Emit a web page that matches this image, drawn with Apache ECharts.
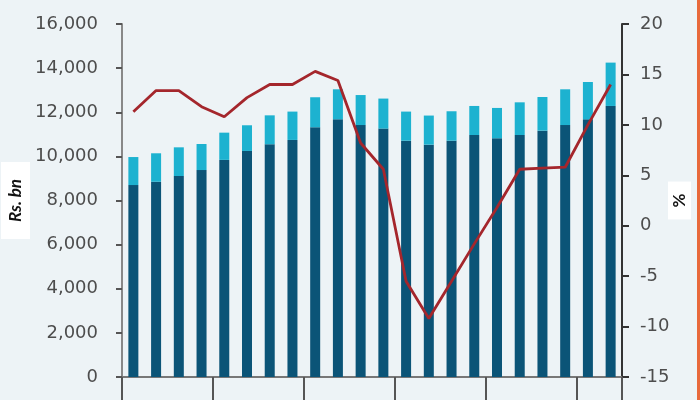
<!DOCTYPE html>
<html>
<head>
<meta charset="utf-8">
<script src="https://cdn.jsdelivr.net/npm/echarts@6/dist/echarts.min.js"></script>
<style>
  html, body { margin: 0; padding: 0; background: #edf3f6; }
  #chart { width: 700px; height: 400px; }
</style>
</head>
<body>
<div id="chart"></div>
<script>
// quarterly periods (labels fall below the visible area in the source)
const categories = [
  'Q1-1', 'Q2-1', 'Q3-1', 'Q4-1',
  'Q1-2', 'Q2-2', 'Q3-2', 'Q4-2',
  'Q1-3', 'Q2-3', 'Q3-3', 'Q4-3',
  'Q1-4', 'Q2-4', 'Q3-4', 'Q4-4',
  'Q1-5', 'Q2-5', 'Q3-5', 'Q4-5',
  'Q1-6', 'Q2-6'
]
// Rs. bn, lower (dark) part of each bar
const baseValues = [
  8700, 8850, 9110, 9380, 9840, 10245, 10550, 10745, 11320, 11680, 11420,
  11260, 10710, 10530, 10710, 10970, 10820, 10970, 11165, 11420, 11680, 12285
]
// Rs. bn, bar totals
const totalValues = [
  9970, 10140, 10410, 10560, 11075, 11410, 11860, 12030, 12680, 13040, 12780,
  12620, 12030, 11850, 12045, 12285, 12195, 12450, 12690, 13040, 13370, 14250
]
// % growth, right axis
const growth = [
  11.3, 13.4, 13.4, 11.8, 10.8, 12.7, 14.0, 14.0, 15.3, 14.4, 8.2,
  5.6, -5.5, -9.2, -5.5, -1.8, 1.8, 5.6, 5.7, 5.8, 10.0, 14.0
]
const topValues = totalValues.map((t, i) => t - baseValues[i])

const chart = echarts.init(document.getElementById('chart'))
const labelFont = { color: '#4d4d4d', fontSize: 18, fontFamily: 'DejaVu Sans' }

chart.setOption({
  backgroundColor: '#edf3f6',
  animation: false,
  grid: { left: 122, right: 78, top: 24, bottom: 23, outerBoundsMode: 'none', containLabel: false },
  xAxis: {
    type: 'category',
    data: categories,
    axisLine: { lineStyle: { color: '#777', width: 2 } },
    axisTick: { show: true, interval: 3, length: 30, lineStyle: { color: '#555', width: 2 } },
    axisLabel: { show: false },
    splitLine: { show: false }
  },
  yAxis: [{
    type: 'value',
    min: 0,
    max: 16000,
    interval: 2000,
    name: 'Rs. bn',
    nameLocation: 'middle',
    nameGap: 92,
    nameRotate: 90,
    nameMoveOverlap: false,
    nameTextStyle: {
      color: '#111', fontSize: 17, fontStyle: 'italic', fontWeight: 'bold',
      fontFamily: 'Lato', backgroundColor: '#fff', padding: [6, 17, 6, 17]
    },
    axisLine: { show: true, lineStyle: { color: '#888', width: 2 } },
    axisTick: { show: true, length: 6, lineStyle: { color: '#555', width: 2 } },
    axisLabel: {
      ...labelFont,
      margin: 24,
      formatter: v => v.toLocaleString('en-US')
    },
    splitLine: { show: false }
  }, {
    type: 'value',
    min: -15,
    max: 20,
    interval: 5,
    name: '%',
    nameLocation: 'middle',
    nameGap: 46,
    nameRotate: 90,
    nameMoveOverlap: false,
    nameTextStyle: {
      color: '#111', fontSize: 17, fontWeight: 'bold', fontFamily: 'Lato',
      backgroundColor: '#fff', padding: [3, 12, 3, 12]
    },
    axisLine: { show: true, lineStyle: { color: '#333', width: 2 } },
    axisTick: { show: true, length: 7, lineStyle: { color: '#333', width: 2 } },
    axisLabel: { ...labelFont, margin: 18 },
    splitLine: { show: false }
  }],
  series: [{
    name: 'base',
    type: 'bar',
    stack: 'total',
    barWidth: 10,
    data: baseValues,
    itemStyle: { color: '#0b5477' }
  }, {
    name: 'top',
    type: 'bar',
    stack: 'total',
    barWidth: 10,
    data: topValues,
    itemStyle: { color: '#1db2d0' }
  }, {
    name: 'growth',
    type: 'line',
    yAxisIndex: 1,
    data: growth,
    symbol: 'none',
    lineStyle: { color: '#a4262c', width: 2.8 },
    z: 5
  }],
  graphic: [{
    type: 'rect',
    right: 0,
    top: 0,
    shape: { width: 3, height: 400 },
    style: { fill: '#e8693b' }
  }]
})
</script>
</body>
</html>
